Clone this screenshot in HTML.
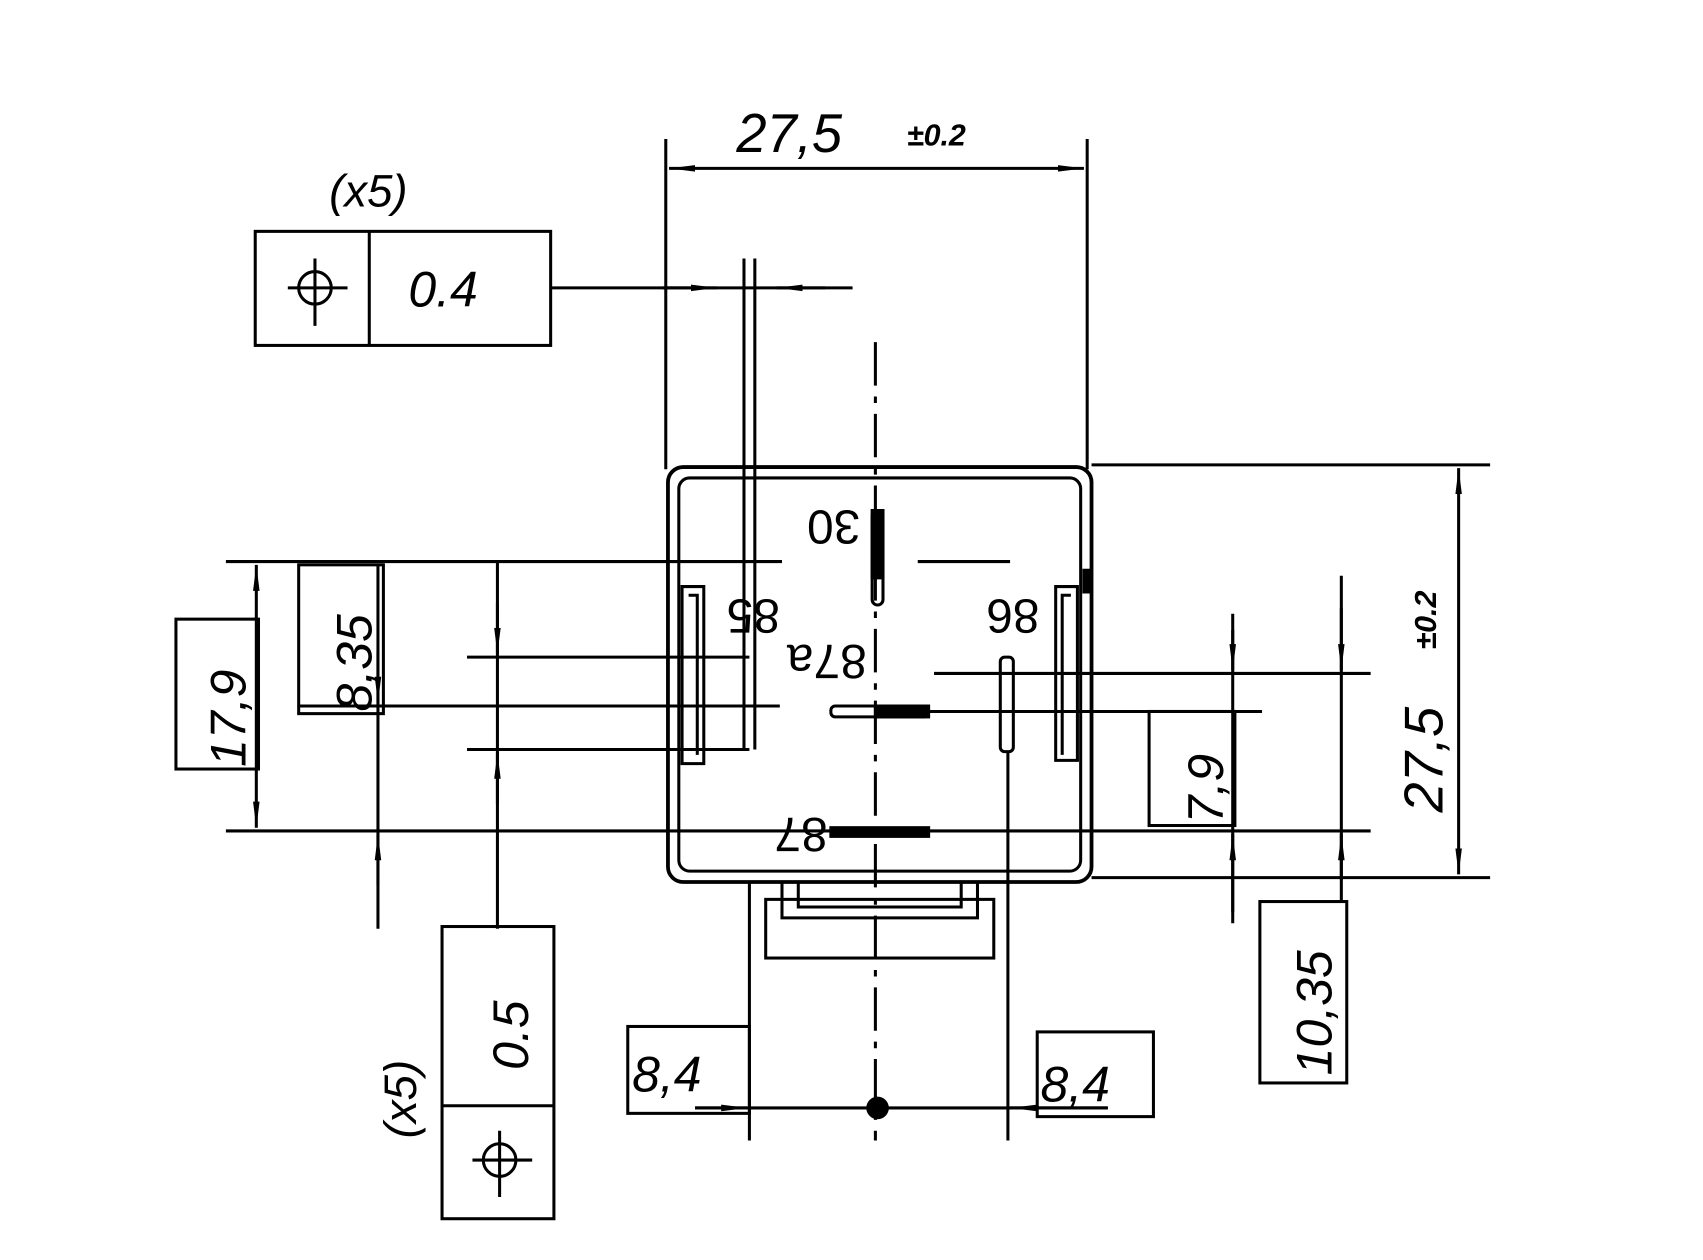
<!DOCTYPE html><html><head><style>html,body{margin:0;padding:0;background:#fff}svg{display:block}text{font-family:"Liberation Sans",sans-serif;font-style:italic;fill:#000}</style></head><body>
<svg width="1703" height="1260" viewBox="0 0 1568 1160" preserveAspectRatio="none" xmlns="http://www.w3.org/2000/svg">
<defs><marker id="b" viewBox="0 0 24 8" refX="24" refY="4" markerWidth="24" markerHeight="8" orient="auto-start-reverse" markerUnits="userSpaceOnUse"><path d="M0,1L24,4L0,7z" fill="#000"/></marker></defs>
<g stroke="#000" stroke-width="2.8" fill="none">
<line x1="613" y1="128" x2="613" y2="432"/><line x1="1001" y1="128" x2="1001" y2="432"/>
<line x1="616" y1="155" x2="998" y2="155" marker-start="url(#b)" marker-end="url(#b)"/>
<rect x="235" y="213" width="272" height="105"/><line x1="340" y1="213" x2="340" y2="318"/>
<circle cx="290" cy="265" r="15"/><line x1="265" y1="265" x2="320" y2="265"/><line x1="290" y1="238" x2="290" y2="300"/>
<line x1="507" y1="265" x2="785" y2="265"/>
<line x1="610" y1="265" x2="660" y2="265" marker-end="url(#b)"/><line x1="760" y1="265" x2="715" y2="265" marker-end="url(#b)"/>
<line x1="685" y1="238" x2="685" y2="690"/><line x1="695" y1="238" x2="695" y2="690"/>
<line x1="806" y1="315" x2="806" y2="1050" stroke-dasharray="40 10 6 10"/>
<rect x="615" y="430" width="390" height="382" rx="14" stroke-width="3.5"/>
<rect x="625" y="440" width="370" height="362" rx="10"/>
<line x1="1005" y1="428" x2="1372" y2="428"/><line x1="1005" y1="808" x2="1372" y2="808"/>
<line x1="1343" y1="431" x2="1343" y2="805" marker-start="url(#b)" marker-end="url(#b)"/>
<line x1="208" y1="517" x2="720" y2="517"/><line x1="845" y1="517" x2="930" y2="517"/>
<line x1="208" y1="765" x2="1262" y2="765"/>
<rect x="162" y="570" width="76" height="138"/>
<line x1="236" y1="520" x2="236" y2="762" marker-start="url(#b)" marker-end="url(#b)"/>
<rect x="275" y="520" width="78" height="137"/>
<line x1="348" y1="520" x2="348" y2="855"/>
<line x1="348" y1="600" x2="348" y2="647" marker-end="url(#b)"/><line x1="348" y1="815" x2="348" y2="768" marker-end="url(#b)"/>
<line x1="430" y1="605" x2="690" y2="605"/><line x1="275" y1="650" x2="718" y2="650"/><line x1="430" y1="690" x2="690" y2="690"/>
<line x1="458" y1="517" x2="458" y2="855"/>
<line x1="458" y1="555" x2="458" y2="602" marker-end="url(#b)"/><line x1="458" y1="740" x2="458" y2="693" marker-end="url(#b)"/>
<rect x="407" y="853" width="103" height="269"/><line x1="407" y1="1018" x2="510" y2="1018"/>
<circle cx="460" cy="1068" r="15"/><line x1="435" y1="1068" x2="490" y2="1068"/><line x1="460" y1="1041" x2="460" y2="1102"/>
<path d="M628 540 L648 540 L648 703 L628 703 Z"/><path d="M634 548 L642 548 L642 695"/>
<path d="M972 540 L992 540 L992 700 L972 700 Z"/><path d="M986 548 L978 548 L978 695"/>
<rect x="998" y="525" width="6" height="20" fill="#000"/>
<rect x="803" y="470" width="10" height="87" rx="5"/><rect x="803" y="470" width="10" height="62" fill="#000"/>
<rect x="765" y="650" width="90" height="10" rx="4"/><rect x="806" y="650" width="49" height="10" fill="#000"/>
<line x1="860" y1="620" x2="1262" y2="620"/><line x1="855" y1="655" x2="1162" y2="655"/>
<rect x="921" y="605" width="12" height="87" rx="4"/>
<rect x="765" y="762" width="90" height="8" fill="#000"/>
<rect x="705" y="828" width="210" height="54"/><path d="M720 813 L720 845 L900 845 L900 813"/><path d="M735 813 L735 835 L885 835 L885 813"/>
<line x1="690" y1="812" x2="690" y2="1050"/><line x1="928" y1="692" x2="928" y2="1050"/>
<line x1="640" y1="1020" x2="1020" y2="1020"/>
<line x1="640" y1="1020" x2="688" y2="1020" marker-end="url(#b)"/><line x1="1020" y1="1020" x2="930" y2="1020" marker-end="url(#b)"/>
<circle cx="808" cy="1020" r="9" fill="#000"/>
<rect x="578" y="945" width="112" height="80"/><rect x="955" y="950" width="107" height="78"/>
<rect x="1058" y="655" width="79" height="105"/>
<line x1="1135" y1="565" x2="1135" y2="850"/>
<line x1="1135" y1="580" x2="1135" y2="617" marker-end="url(#b)"/><line x1="1135" y1="840" x2="1135" y2="768" marker-end="url(#b)"/>
<line x1="1235" y1="530" x2="1235" y2="830"/>
<line x1="1235" y1="560" x2="1235" y2="617" marker-end="url(#b)"/><line x1="1235" y1="810" x2="1235" y2="768" marker-end="url(#b)"/>
<rect x="1160" y="830" width="80" height="167"/>
</g>
<text x="678" y="140" font-size="50">27,5</text><text x="835" y="134" font-size="28" font-weight="bold">±0.2</text>
<text x="303" y="190" font-size="42">(x5)</text>
<text x="376" y="282" font-size="46">0.4</text>
<text transform="translate(226,706) rotate(-90)" font-size="46">17,9</text>
<text transform="translate(342,655) rotate(-90)" font-size="46">8,35</text>
<text transform="translate(486,985) rotate(-90)" font-size="46">0.5</text>
<text transform="translate(383,1048) rotate(-90)" font-size="42">(x5)</text>
<text x="582" y="1005" font-size="46">8,4</text><text x="958" y="1014" font-size="46">8,4</text>
<text transform="translate(1126,758) rotate(-90)" font-size="46">7,9</text>
<text transform="translate(1226,990) rotate(-90)" font-size="46">10,35</text>
<text transform="translate(1328,748) rotate(-90)" font-size="50">27,5</text>
<text transform="translate(1322,598) rotate(-90)" font-size="28" font-weight="bold">±0.2</text>
<g font-size="44">
<text transform="translate(792,470) rotate(180)" style="font-style:normal">30</text>
<text transform="translate(718,552) rotate(180)" style="font-style:normal">85</text>
<text transform="translate(798,594) rotate(180)" style="font-style:normal">87a</text>
<text transform="translate(957,552) rotate(180)" style="font-style:normal">86</text>
<text transform="translate(762,753) rotate(180)" style="font-style:normal">87</text>
</g>
</svg></body></html>
